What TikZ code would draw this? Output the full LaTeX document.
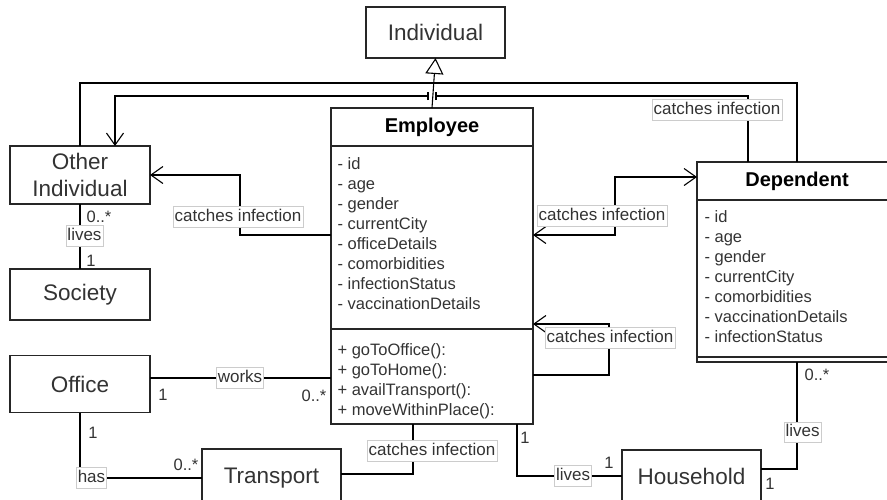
\documentclass[tikz,border=0pt]{standalone}
\usepackage{fontspec}
\setmainfont{Liberation Sans}
\usetikzlibrary{positioning,arrows.meta}

\begin{document}
\begin{tikzpicture}
	[	x=1pt,y=-1pt,line width=1.1pt,
		>={Straight Barb[length=12pt,width=17pt]},
		cls/.style={rectangle,draw=black!85,fill=white,minimum width=140pt,inner sep=0pt,outer sep=0pt,text=black!80,font=\fontsize{22.5}{27}\selectfont,align=center},
		clshead/.style={cls,text=black,font=\fontsize{20}{24}\selectfont\bfseries},
		compart/.style={rectangle,draw=black!85,inner sep=0pt,outer sep=0pt},
		attr/.style={anchor=west,inner sep=0pt,text height=12pt,text depth=3pt,text=black!80,font=\fontsize{16.5}{20}\selectfont},
		lbl/.style={draw=black!20,line width=0.6pt,fill=white,inner xsep=1.5pt,inner ysep=2.5pt,text height=12pt,text depth=3.5pt,text=black!80,font=\fontsize{17}{20}\selectfont},
		mult/.style={inner sep=0pt,text=black!80,font=\fontsize{16.5}{20}\selectfont}
	]
	\useasboundingbox (0,0) rectangle (887,499);

	\node[cls,minimum width=139pt,minimum height=51pt] (ind) at (435.5,32.5) {Individual};
	\node[cls,minimum height=58pt] (oth) at (80,175) {Other\\Individual};
	\node[cls,minimum height=51pt] (soc) at (80,294.5) {Society};
	\node[cls,minimum height=57pt] (off) at (80,384) {Office};
	\node[cls,minimum width=139pt,minimum height=58pt] (tr) at (271.5,478) {Transport};
	\node[cls,minimum width=139pt,minimum height=52pt] (hh) at (691.5,476) {Household};

	% Employee
	\node[clshead,minimum width=202pt,minimum height=38pt] (emphead) at (432,127) {Employee};
	\node[compart,minimum width=202pt,minimum height=183pt,below=0pt of emphead] (empattr) {};
	\node[compart,minimum width=202pt,minimum height=95pt,below=0pt of empattr] (empops) {};
	\foreach \a [count=\i] in {id,age,gender,currentCity,officeDetails,comorbidities,infectionStatus,vaccinationDetails}
		\node[attr] (ea\i) at (337,145+20*\i) {- \a};
	\foreach \o [count=\i] in {goToOffice():,goToHome():,availTransport():,moveWithinPlace():}
		\node[attr] (eo\i) at (337,331+20*\i) {+ \o};

	% Dependent
	\node[clshead,minimum width=200pt,minimum height=38pt] (dephead) at (797,181) {Dependent};
	\node[compart,minimum width=200pt,minimum height=157pt,below=0pt of dephead] (depattr) {};
	\node[compart,minimum width=200pt,minimum height=5pt,below=0pt of depattr] (depops) {};
	\foreach \a [count=\i] in {id,age,gender,currentCity,comorbidities,vaccinationDetails,infectionStatus}
		\node[attr] (da\i) at (704,198+20*\i) {- \a};

	% generalization
	\coordinate (gen) at (432,83);
	\draw[-{Triangle[open,length=16pt,width=18pt]}] (emphead.north) -- (ind.south);
	\draw (oth.north) |- (gen) -| (dephead.north);

	% catches infection
	\coordinate (jr) at (436,96);
	\coordinate (jl) at (428,96);
	\draw ([xshift=-49pt]dephead.north) |- (jr);
	\draw[->] (jl) -| ([xshift=35pt]oth.north);
	\draw ([yshift=-4pt]jr) -- ([yshift=4pt]jr);
	\draw ([yshift=-4pt]jl) -- ([yshift=4pt]jl);
	\node[lbl] (l1) at (717,110) {catches infection};

	\coordinate (c2) at (240,175);
	\draw[->] ([yshift=2.5pt]empattr.west) -| (c2) -- (oth.east);
	\node[lbl] (l2) at (238,217) {catches infection};

	\coordinate (c3) at (615,177);
	\draw[<->] ([yshift=2.5pt]empattr.east) -| (c3) -- (c3 -| dephead.west);
	\node[lbl] (l3) at (602,216) {catches infection};

	\coordinate (c4) at (609,324);
	\draw[->] ([yshift=1.5pt]empops.east) -| (c4) -- (c4 -| empattr.east);
	\node[lbl] (l4) at (610,338) {catches infection};

	\draw ([yshift=4pt]tr.east) -| ([xshift=-19pt]empops.south);
	\node[lbl] (l5) at (432,451) {catches infection};

	% lives, works, has
	\draw (oth.south) -- (soc.north);
	\node[lbl] (l6) at (84.5,236) {lives};
	\node[mult] (m1) at (99,217) {0..*};
	\node[mult] (m2) at (91,261) {1};

	\coordinate (w1) at ([yshift=6pt]off.east);
	\draw (w1) -- (w1 -| empops.west);
	\node[lbl] (l7) at (240,378) {works};
	\node[mult] (m3) at (163,395) {1};
	\node[mult] (m4) at (314,396) {0..*};

	\draw (off.south) |- (tr.west);
	\node[lbl] (l8) at (91.5,478) {has};
	\node[mult] (m5) at (93,433) {1};
	\node[mult] (m6) at (186,465) {0..*};

	\draw ([xshift=85pt]empops.south) |- (hh.west);
	\node[lbl] (l9) at (573,476) {lives};
	\node[mult] (m7) at (525,438) {1};
	\node[mult] (m8) at (609,463) {1};

	\draw (depops.south) |- ([yshift=7pt]hh.east);
	\node[lbl] (l10) at (802.5,432.5) {lives};
	\node[mult] (m9) at (817,375) {0..*};
	\node[mult] (m10) at (770,484) {1};
\end{tikzpicture}
\end{document}
